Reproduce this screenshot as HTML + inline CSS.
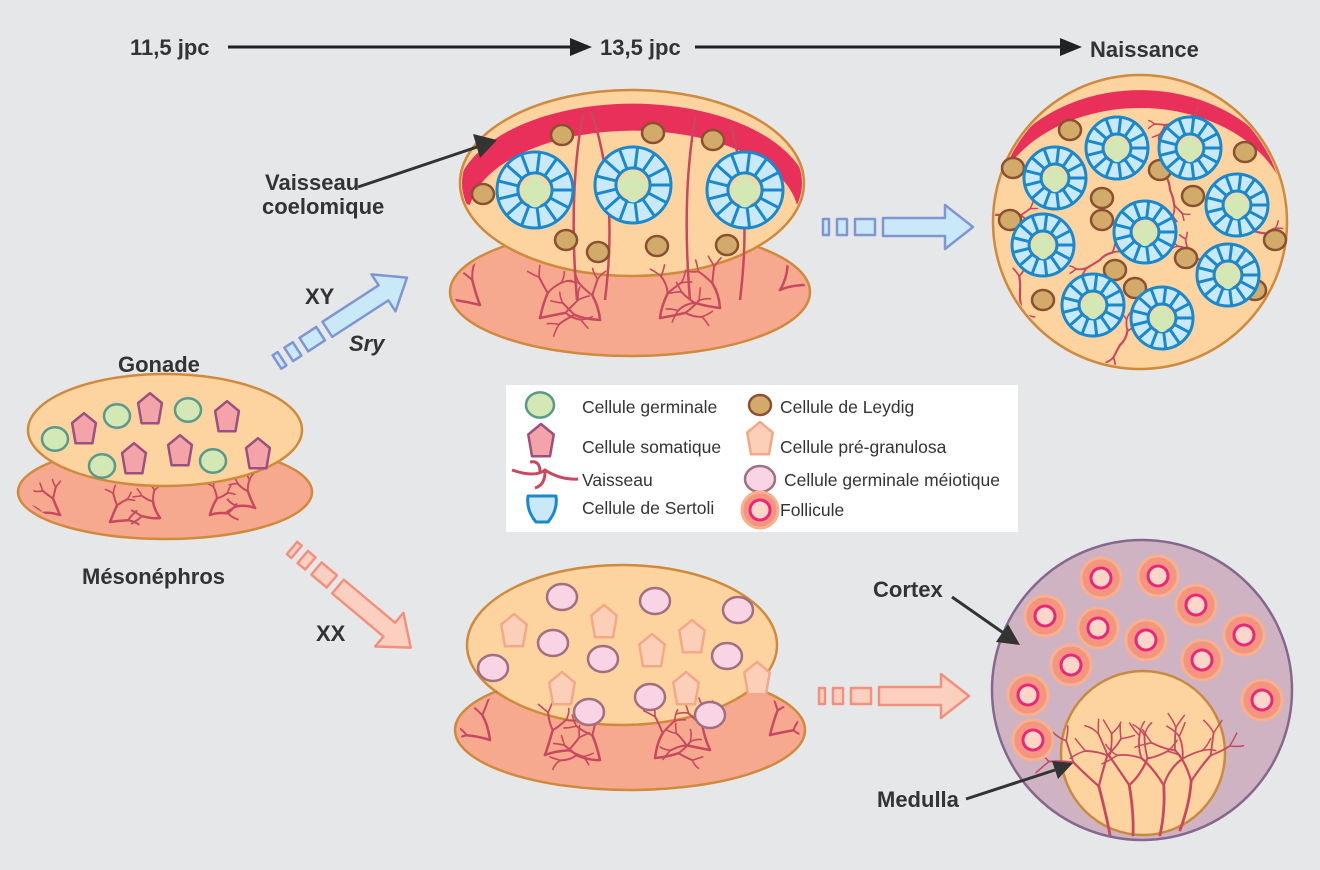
<!DOCTYPE html>
<html><head><meta charset="utf-8"><style>
html,body{margin:0;padding:0;background:#e6e7e9}
svg{display:block}
.lb{font-family:"Liberation Sans",sans-serif;font-weight:bold;font-size:22px;fill:#333}
.lg{font-family:"Liberation Sans",sans-serif;font-size:17.5px;fill:#333}
</style></head><body>
<svg id="s" width="1320" height="870" viewBox="0 0 1320 870" xmlns="http://www.w3.org/2000/svg">
<defs>
<clipPath id="cT"><ellipse cx="632" cy="183" rx="170" ry="91"/></clipPath>
<clipPath id="cTU"><ellipse cx="630" cy="292" rx="176" ry="60"/><ellipse cx="632" cy="190" rx="165" ry="80"/></clipPath>
<clipPath id="c0U"><ellipse cx="165" cy="492" rx="140" ry="42"/></clipPath>
<clipPath id="cXU"><ellipse cx="630" cy="730" rx="170" ry="56"/><ellipse cx="622" cy="660" rx="150" ry="60"/></clipPath>
<clipPath id="cB"><circle cx="1140" cy="222" r="145"/></clipPath>
<clipPath id="cO"><circle cx="1142" cy="690" r="149"/></clipPath>
</defs>
<rect width="1320" height="870" fill="#e6e7e9"/>
<g stroke="#222" stroke-width="3">
<line x1="228" y1="47" x2="572" y2="47"/><line x1="695" y1="47" x2="1062" y2="47"/>
</g>
<path d="M570,38 L592,47 L570,56z M1060,38 L1082,47 L1060,56z" fill="#222"/>
<text class="lb" x="130" y="55">11,5 jpc</text>
<text class="lb" x="600" y="55">13,5 jpc</text>
<text class="lb" x="1090" y="57">Naissance</text>

<ellipse cx="165" cy="492" rx="147" ry="47" fill="#f6a98f" stroke="#d08a3c" stroke-width="2.5"/>
<g id="v0" clip-path="url(#c0U)"></g>
<ellipse cx="165" cy="430" rx="137" ry="56" fill="#fdd3a0" stroke="#d08a3c" stroke-width="2.5"/>
<g id="c0"></g>
<text class="lb" x="118" y="372">Gonade</text>
<text class="lb" x="82" y="584">Mésonéphros</text>

<ellipse cx="630" cy="292" rx="180" ry="64" fill="#f6a98f" stroke="#d08a3c" stroke-width="2.5"/>
<ellipse cx="632" cy="183" rx="172" ry="93" fill="#fdd3a0" stroke="#d08a3c" stroke-width="2.5"/>
<g clip-path="url(#cT)"><path d="M455,200 A175,95 0 0 1 810,200 L797,205 A165,86 0 0 0 470,205z" fill="#e8305a"/></g>
<g id="v1" clip-path="url(#cTU)"></g>
<g id="c1"></g>
<text class="lb" x="265" y="190">Vaisseau</text>
<text class="lb" x="262" y="214">coelomique</text>
<line x1="358" y1="187" x2="480" y2="146" stroke="#333" stroke-width="3"/>
<path d="M473,134 L497,140 L480,158z" fill="#333"/>

<circle cx="1140" cy="222" r="147" fill="#fdd3a0" stroke="#d08a3c" stroke-width="2.5"/>
<g clip-path="url(#cB)"><path d="M985,215 A155,125 0 0 1 1295,215 L1290,220 A150,112 0 0 0 990,220z" fill="#e8305a"/></g>
<g id="v2" clip-path="url(#cB)"></g>
<g id="c2"></g>

<ellipse cx="630" cy="730" rx="175" ry="60" fill="#f6a98f" stroke="#d08a3c" stroke-width="2.5"/>
<ellipse cx="622" cy="645" rx="155" ry="80" fill="#fdd3a0" stroke="#d08a3c" stroke-width="2.5"/>
<g id="v3" clip-path="url(#cXU)"></g>
<g id="c3"></g>

<circle cx="1142" cy="690" r="150" fill="#cfb3c3" stroke="#86688e" stroke-width="2.5"/>
<g clip-path="url(#cO)"><circle cx="1143" cy="753" r="82" fill="#fdd3a0" stroke="#c98a40" stroke-width="2.5"/></g>
<g id="v4"></g>
<g id="c4"></g>
<text class="lb" x="873" y="597">Cortex</text>
<line x1="952" y1="597" x2="1005" y2="634" stroke="#333" stroke-width="3"/>
<path d="M996,642 L1020,645 L1008,624z" fill="#333"/>
<text class="lb" x="877" y="807">Medulla</text>
<line x1="966" y1="799" x2="1055" y2="770" stroke="#333" stroke-width="3"/>
<path d="M1052,761 L1073,763 L1058,779z" fill="#333"/>

<g id="ar"></g>
<text class="lb" x="305" y="304">XY</text>
<text class="lb" x="349" y="351" font-style="italic">Sry</text>
<text class="lb" x="316" y="641">XX</text>

<rect x="506" y="385" width="512" height="147" fill="#fff"/>
<g id="lgd"></g>
<text class="lg" x="582" y="413">Cellule germinale</text>
<text class="lg" x="582" y="453">Cellule somatique</text>
<text class="lg" x="582" y="486">Vaisseau</text>
<text class="lg" x="582" y="514">Cellule de Sertoli</text>
<text class="lg" x="780" y="413">Cellule de Leydig</text>
<text class="lg" x="780" y="453">Cellule pré-granulosa</text>
<text class="lg" x="784" y="486">Cellule germinale méiotique</text>
<text class="lg" x="780" y="516">Follicule</text>
</svg>
<script>
function $(id){return document.getElementById(id);}
var VC='#c8485f';
function germ(x,y,r){r=r||12;return '<ellipse cx="'+x+'" cy="'+y+'" rx="'+r+'" ry="'+(r*0.9)+'" fill="#d3e8b4" stroke="#5a9a8a" stroke-width="2.5"/>';}
function leyd(x,y){return '<ellipse cx="'+x+'" cy="'+y+'" rx="11" ry="10" fill="#d2ab6a" stroke="#8a5030" stroke-width="2.5"/>';}
function pent(x,y,s,f,st){var p=[[0,-1.2],[0.85,-0.5],[0.6,0.95],[-0.6,0.95],[-0.85,-0.5]].map(function(a){return (x+a[0]*s)+','+(y+a[1]*s)}).join(' ');return '<polygon points="'+p+'" fill="'+f+'" stroke="'+st+'" stroke-width="2.5" stroke-linejoin="round"/>';}
function mei(x,y){return '<ellipse cx="'+x+'" cy="'+y+'" rx="15" ry="13" fill="#f8d4e4" stroke="#a07080" stroke-width="2.5"/>';}
function foll(x,y){return '<circle cx="'+x+'" cy="'+y+'" r="20" fill="#f3957f" stroke="#f8b08e" stroke-width="3"/><circle cx="'+x+'" cy="'+y+'" r="10" fill="#fcd7c8" stroke="#e8287a" stroke-width="3"/>';}
function cord(x,y,R){var s='<circle cx="'+x+'" cy="'+y+'" r="'+R+'" fill="#c9e9f9" stroke="#1a88cc" stroke-width="3"/>';var ri=R*0.45;
s+='<circle cx="'+x+'" cy="'+y+'" r="'+ri+'" fill="#fdd3a0" stroke="#1a88cc" stroke-width="3"/>';
for(var i=0;i<13;i++){var a=i/13*2*Math.PI;s+='<line x1="'+(x+ri*Math.cos(a))+'" y1="'+(y+ri*Math.sin(a))+'" x2="'+(x+R*Math.cos(a))+'" y2="'+(y+R*Math.sin(a))+'" stroke="#1a88cc" stroke-width="3"/>';}
var g=R*0.19;[[0,-g],[-g,g*0.3],[g,g*0.3],[0,g*1.4],[-g,0],[g,0]].forEach(function(o){s+='<circle cx="'+(x+o[0])+'" cy="'+(y+o[1])+'" r="'+g+'" fill="#d3e8b4"/>';});
return s;}
var seed=7;function rnd(){seed=(seed*9301+49297)%233280;return seed/233280;}
function tree(x,y,ang,len,d,w){var s='';var x2=x+len*Math.cos(ang),y2=y+len*Math.sin(ang);
var mx=(x+x2)/2+(rnd()-0.5)*len*0.3,my=(y+y2)/2+(rnd()-0.5)*len*0.3;
s+='<path d="M'+x+','+y+' Q'+mx+','+my+' '+x2+','+y2+'" stroke="'+VC+'" stroke-width="'+w+'" fill="none" stroke-linecap="round"/>';
if(d>0){s+=tree(x2,y2,ang-0.5-rnd()*0.3,len*0.7,d-1,Math.max(1.5,w*0.8));s+=tree(x2,y2,ang+0.4+rnd()*0.3,len*0.65,d-1,Math.max(1.5,w*0.8));}
return s;}
var H=Math.PI;
var s='';[[60,515],[110,522],[160,518],[210,515],[255,508]].forEach(function(p,i){s+=tree(p[0],p[1],-H/2+(i%2?0.4:-0.4),18,2,2.5);s+=tree(p[0],p[1],(i%2?-0.1:H+0.1),18,1,2.5);});
$('v0').innerHTML=s;
s='';[[55,439],[117,416],[188,410],[102,466],[213,461]].forEach(function(p){s+=germ(p[0],p[1],13);});
[[84,430],[150,410],[227,418],[134,460],[180,452],[258,455]].forEach(function(p){s+=pent(p[0],p[1],14,'#f4a4a8','#9a5080');});
$('c0').innerHTML=s;
s='';[[480,305],[540,318],[600,320],[660,318],[720,308],[780,290]].forEach(function(p,i){s+=tree(p[0],p[1],-H/2+(i%2?0.3:-0.3),26,2,2.5);s+=tree(p[0],p[1],(i%2?-0.2:H+0.2),26,2,2.5);});
[[577,300],[605,300],[690,300],[740,300]].forEach(function(p,i){s+='<path d="M'+p[0]+','+p[1]+' Q'+(p[0]+(i%2?15:-10))+',180 '+(p[0]+(i%2?-20:10))+',95" stroke="'+VC+'" stroke-width="2.5" fill="none"/>';});
$('v1').innerHTML=s;
s='';[[562,135],[653,133],[713,140],[483,194],[566,240],[657,246],[727,245],[598,252]].forEach(function(p){s+=leyd(p[0],p[1]);});
[[535,190],[633,185],[745,190]].forEach(function(p){s+=cord(p[0],p[1],38);});
$('c1').innerHTML=s;
s='';[[1005,215],[1170,190],[1100,260],[1200,260],[1120,345],[1250,230],[1020,290],[1180,120]].forEach(function(p,i){s+=tree(p[0],p[1],i*1.3,16,2,2.2);s+=tree(p[0],p[1],i*1.3+H,14,1,2.2);});
$('v2').innerHTML=s;
s='';[[1070,130],[1245,152],[1013,168],[1160,170],[1102,198],[1193,196],[1102,220],[1010,220],[1275,240],[1115,270],[1186,258],[1255,290],[1043,300],[1135,288]].forEach(function(p){s+=leyd(p[0],p[1]);});
[[1117,148],[1190,148],[1055,178],[1237,205],[1145,232],[1043,245],[1228,275],[1093,305],[1162,318]].forEach(function(p){s+=cord(p[0],p[1],31);});
$('c2').innerHTML=s;
s='';[[490,740],[545,755],[600,760],[655,758],[710,750],[770,735]].forEach(function(p,i){s+=tree(p[0],p[1],-H/2+(i%2?0.3:-0.3),26,2,2.5);s+=tree(p[0],p[1],(i%2?-0.2:H+0.2),24,2,2.5);});
$('v3').innerHTML=s;
s='';[[562,597],[655,601],[738,610],[553,643],[493,668],[603,659],[727,656],[650,697],[589,712],[710,715]].forEach(function(p){s+=mei(p[0],p[1]);});
[[514,632],[604,623],[652,652],[692,638],[562,690],[686,690],[757,680]].forEach(function(p){s+=pent(p[0],p[1],15,'#fcd0b8','#f4a888');});
$('c3').innerHTML=s;
s='<g clip-path="url(#cO)">';[[1110,835],[1133,835],[1160,835],[1180,830]].forEach(function(p,i){seed=11+i;s+=tree(p[0],p[1],-H/2+(i-1.5)*0.15,50,3,2.8);});s+='</g>';
$('v4').innerHTML=s;
s='';[[1101,578],[1158,576],[1045,616],[1196,605],[1098,628],[1146,640],[1244,635],[1071,665],[1202,660],[1028,695],[1262,700],[1033,740]].forEach(function(p){s+=foll(p[0],p[1]);});
$('c4').innerHTML=s;
function fat(x,y,ang,L,f,st){var g='<g transform="translate('+x+','+y+') rotate('+ang+')" fill="'+f+'" stroke="'+st+'" stroke-width="2.5" stroke-linejoin="round">';
g+='<rect x="0" y="-8" width="6" height="16"/><rect x="14" y="-8" width="10" height="16"/><rect x="32" y="-8" width="20" height="16"/>';
g+='<polygon points="60,-9 '+(L-28)+',-9 '+(L-28)+',-22 '+L+',0 '+(L-28)+',22 '+(L-28)+',9 60,9"/></g>';return g;}
$('ar').innerHTML=fat(277,362,-33,155,'#c9e9f9','#7f96d0')+fat(292,548,40,155,'#fcd0c0','#f2907e')+fat(823,227,0,150,'#c9e9f9','#7f96d0')+fat(819,696,0,150,'#fcd0c0','#f2907e');
s=germ(540,405,14)+leyd(760,405)+pent(541,442,15,'#f4a4a8','#9a5080')+pent(760,440,15,'#fcd0b8','#f4a888')+mei(760,479)+foll(760,510).replace(/r="20"/,'r="18"');
s+='<path d="M512,470 Q535,478 545,470 Q560,480 578,479 M540,472 Q540,460 530,462 M545,472 Q545,485 535,488" stroke="'+VC+'" stroke-width="3" fill="none"/>';
s+='<path d="M528,496 L556,496 Q558,510 548,522 L536,522 Q526,510 528,496z" fill="#c9e9f9" stroke="#1a88cc" stroke-width="3" stroke-linejoin="round"/>';
$('lgd').innerHTML=s;
</script>
</body></html>
